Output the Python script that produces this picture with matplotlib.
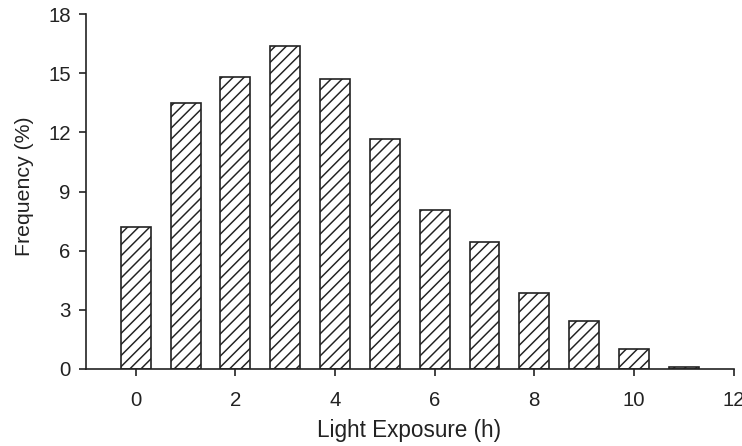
import numpy as np
from matplotlib import pyplot as plt

# Data
hours = [0, 1, 2, 3, 4, 5, 6, 7, 8, 9, 10, 11]
freq = [7.2, 13.5, 14.8, 16.4, 14.7, 11.65, 8.05, 6.45, 3.85, 2.45, 1.0, 0.12]
x_ticks = [0, 2, 4, 6, 8, 10, 12]
y_ticks = [0, 3, 6, 9, 12, 15, 18]

dpi = 133
W, H = 742, 446
fig = plt.figure(figsize=(W / dpi, H / dpi), dpi=dpi)
ax = fig.add_axes([86 / W, 1 - 369 / H, (733.5 - 86) / W, (369 - 14) / H])

plt.rcParams['hatch.linewidth'] = 0.8
plt.rcParams['hatch.color'] = '#222222'
ax.bar(hours, freq, width=0.6, color='white', edgecolor='#222222',
       linewidth=0.9, hatch='////')

ax.set_xlim(-1, 12)
ax.set_ylim(0, 18)
ax.set_xticks(x_ticks)
ax.set_yticks(y_ticks)

for s in ['top', 'right']:
    ax.spines[s].set_visible(False)
for s in ['left', 'bottom']:
    ax.spines[s].set_linewidth(0.9)
    ax.spines[s].set_color('#222222')

ax.tick_params(direction='out', length=3.8, width=0.9, color='#222222',
               labelsize=11, labelcolor='#222222')
ax.tick_params(axis='x', pad=8)
ax.tick_params(axis='y', pad=4.5)
for lab in ax.get_xticklabels() + ax.get_yticklabels():
    lab.set_family('Liberation Sans')

# axis titles placed in figure pixels
fig.text(409.5 / W, 1 - 431 / H, 'Light Exposure (h)', fontsize=12.2,
         family='Liberation Sans', color='#222222', ha='center', va='center')
fig.text(25 / W, 1 - 186 / H, 'Frequency (%)', fontsize=11.5, rotation=90,
         family='Liberation Sans', color='#222222', ha='center', va='center')

fig.savefig('out.png', dpi=dpi)
